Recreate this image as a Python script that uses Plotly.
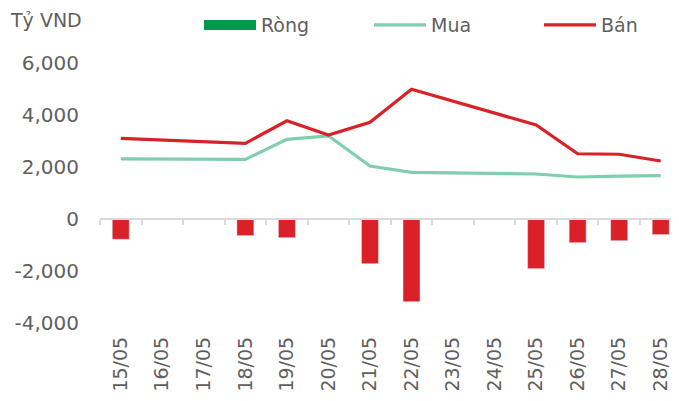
import plotly.graph_objects as go

dates = ["15/05", "16/05", "17/05", "18/05", "19/05", "20/05", "21/05",
         "22/05", "23/05", "24/05", "25/05", "26/05", "27/05", "28/05"]
rong = [-780, None, None, -640, -720, None, -1720, -3180, None, None, -1910, -910, -835, -600]
mua = [2310, None, None, 2290, 3065, 3200, 2040, 1795, None, None, 1730, 1615, 1650, 1665]
ban = [3100, None, None, 2910, 3780, 3230, 3720, 4990, None, None, 3615, 2510, 2490, 2230]
y_ticks = [-4000, -2000, 0, 2000, 4000, 6000]
y_ticktext = ["-4,000", "-2,000", "0", "2,000", "4,000", "6,000"]

RED = "#DA2128"
TEAL = "#7FCFAF"
GREEN = "#009A4E"
GRAY = "#5F5F5F"
FONT = "DejaVu Sans"

fig = go.Figure()
fig.add_trace(go.Bar(x=dates, y=rong, marker_color=RED, width=0.41,
                     showlegend=False, name="Ròng"))
# legend swatch for Ròng (green, as in the source)
fig.add_trace(go.Scatter(x=dates, y=[None] * len(dates), mode="lines",
                         line=dict(color=GREEN, width=12),
                         name="Ròng", xaxis="x2", legendrank=1))
fig.add_trace(go.Scatter(x=dates, y=mua, mode="lines", name="Mua",
                         line=dict(color=TEAL, width=3.2), connectgaps=True, legendrank=2))
fig.add_trace(go.Scatter(x=dates, y=ban, mode="lines", name="Bán",
                         line=dict(color=RED, width=3.2), connectgaps=True, legendrank=3))

fig.update_layout(
    width=671, height=393,
    margin=dict(l=92, r=0, t=55, b=78, autoexpand=False),
    paper_bgcolor="white", plot_bgcolor="white",
    font=dict(family=FONT, color=GRAY, size=19),
    barmode="overlay",
    showlegend=True,
    legend=dict(orientation="h", x=0.171, y=1.146, xanchor="left", yanchor="middle",
                font=dict(size=19, color=GRAY), traceorder="normal",
                itemwidth=52, entrywidth=103, entrywidthmode="pixels",
                bgcolor="rgba(0,0,0,0)"),
    xaxis=dict(type="category", categoryorder="array", categoryarray=dates,
               range=[-0.5, 13.44], showline=False, ticks="",
               tickangle=-90, tickfont=dict(size=19, color=GRAY),
               ticklabelstandoff=9,
               showgrid=False, zeroline=False),
    xaxis2=dict(type="category", categoryorder="array", categoryarray=dates,
                overlaying="x", anchor="free", position=0.4, side="bottom",
                range=[-0.5, 13.44], showline=True, linecolor="#D9D9D9", linewidth=2,
                ticks="outside", tickson="boundaries", ticklen=5, tickwidth=2,
                tickcolor="#D9D9D9", showticklabels=False, showgrid=False, zeroline=False),
    yaxis=dict(range=[-4000, 6000], tickvals=y_ticks, ticktext=y_ticktext,
               showgrid=False, zeroline=False, showline=False,
               tickfont=dict(size=20, color=GRAY), ticklabelstandoff=20),
    annotations=[dict(text="Tỷ VND", xref="paper", yref="paper",
                      x=-92 / 579, y=1 + 43 / 260, xanchor="left", yanchor="middle",
                      showarrow=False, font=dict(size=19, color=GRAY))],
)

fig.write_html("out.html")
